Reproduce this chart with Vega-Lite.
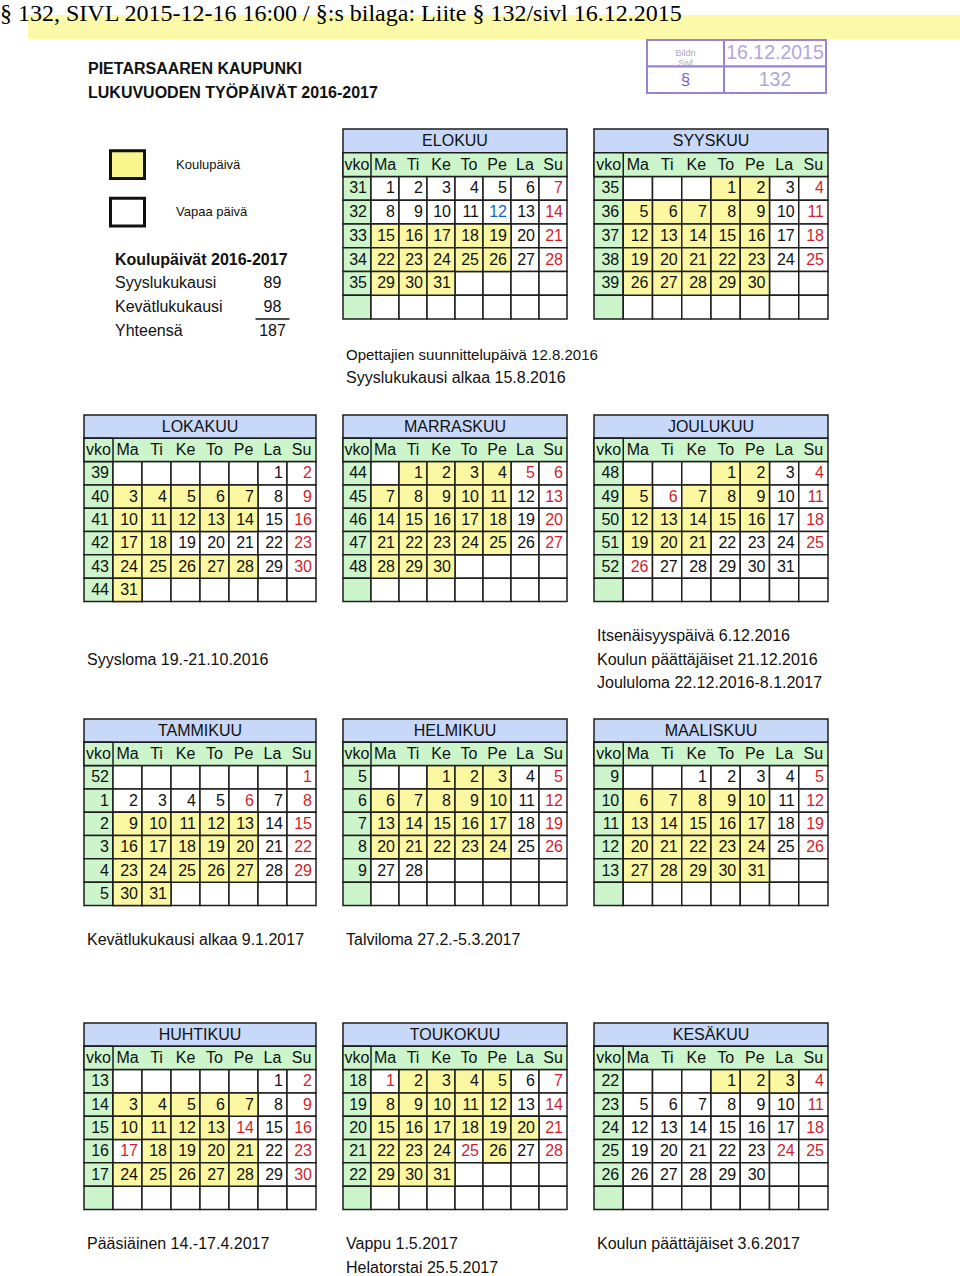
{
"$schema":"https://vega.github.io/schema/vega-lite/v6.json",
"background":"#ffffff",
"padding":{"top":2,"left":0,"right":0,"bottom":0},
"title":{"text":"§ 132, SIVL 2015-12-16 16:00 / §:s bilaga: Liite § 132/sivl 16.12.2015","anchor":"start","font":"Liberation Serif","fontSize":24,"fontWeight":"normal","color":"#000000","offset":-11},
"spacing":0,
"resolve":{"scale":{"color":"independent","fill":"independent"}},
"datasets":{
"months":[{"m":8,"name":"ELOKUU"},{"m":9,"name":"SYYSKUU"},{"m":10,"name":"LOKAKUU"},{"m":11,"name":"MARRASKUU"},{"m":12,"name":"JOULUKUU"},{"m":1,"name":"TAMMIKUU"},{"m":2,"name":"HELMIKUU"},{"m":3,"name":"MAALISKUU"},{"m":4,"name":"HUHTIKUU"},{"m":5,"name":"TOUKOKUU"},{"m":6,"name":"KESÄKUU"}],
"wd":[{"c":"vko"},{"c":"Ma"},{"c":"Ti"},{"c":"Ke"},{"c":"To"},{"c":"Pe"},{"c":"La"},{"c":"Su"}],
"grid":[
{"r":"1","c":"vko"},{"r":"1","c":"Ma"},{"r":"1","c":"Ti"},{"r":"1","c":"Ke"},{"r":"1","c":"To"},{"r":"1","c":"Pe"},{"r":"1","c":"La"},{"r":"1","c":"Su"},
{"r":"2","c":"vko"},{"r":"2","c":"Ma"},{"r":"2","c":"Ti"},{"r":"2","c":"Ke"},{"r":"2","c":"To"},{"r":"2","c":"Pe"},{"r":"2","c":"La"},{"r":"2","c":"Su"},
{"r":"3","c":"vko"},{"r":"3","c":"Ma"},{"r":"3","c":"Ti"},{"r":"3","c":"Ke"},{"r":"3","c":"To"},{"r":"3","c":"Pe"},{"r":"3","c":"La"},{"r":"3","c":"Su"},
{"r":"4","c":"vko"},{"r":"4","c":"Ma"},{"r":"4","c":"Ti"},{"r":"4","c":"Ke"},{"r":"4","c":"To"},{"r":"4","c":"Pe"},{"r":"4","c":"La"},{"r":"4","c":"Su"},
{"r":"5","c":"vko"},{"r":"5","c":"Ma"},{"r":"5","c":"Ti"},{"r":"5","c":"Ke"},{"r":"5","c":"To"},{"r":"5","c":"Pe"},{"r":"5","c":"La"},{"r":"5","c":"Su"},
{"r":"6","c":"vko"},{"r":"6","c":"Ma"},{"r":"6","c":"Ti"},{"r":"6","c":"Ke"},{"r":"6","c":"To"},{"r":"6","c":"Pe"},{"r":"6","c":"La"},{"r":"6","c":"Su"}],
"notes":[
{"m":8,"l":"n1","t":"Opettajien suunnittelupäivä 12.8.2016"},
{"m":8,"l":"n2","t":"Syyslukukausi alkaa 15.8.2016"},
{"m":10,"l":"n2","t":"Syysloma 19.-21.10.2016"},
{"m":12,"l":"n1","t":"Itsenäisyyspäivä 6.12.2016"},
{"m":12,"l":"n2","t":"Koulun päättäjäiset 21.12.2016"},
{"m":12,"l":"n3","t":"Joululoma 22.12.2016-8.1.2017"},
{"m":1,"l":"n1","t":"Kevätlukukausi alkaa 9.1.2017"},
{"m":2,"l":"n1","t":"Talviloma 27.2.-5.3.2017"},
{"m":4,"l":"n1","t":"Pääsiäinen 14.-17.4.2017"},
{"m":5,"l":"n1","t":"Vappu 1.5.2017"},
{"m":5,"l":"n2","t":"Helatorstai 25.5.2017"},
{"m":6,"l":"n1","t":"Koulun päättäjäiset 3.6.2017"}],
"legend":[{"label":"Koulupäivä","k":"S"},{"label":"Vapaa päivä","k":"F"}],
"summary":[{"label":"Koulupäivät 2016-2017"},{"label":"Syyslukukausi","days":89},{"label":"Kevätlukukausi","days":98},{"label":"Yhteensä","days":187}],
"titles":[{"t":"PIETARSAAREN KAUPUNKI"},{"t":"LUKUVUODEN TYÖPÄIVÄT 2016-2017"}],
"cal":[
{"m":8,"r":"1","c":"vko","d":31,"k":"W"},{"m":8,"r":"1","c":"Ma","d":1,"k":"F"},{"m":8,"r":"1","c":"Ti","d":2,"k":"F"},{"m":8,"r":"1","c":"Ke","d":3,"k":"F"},{"m":8,"r":"1","c":"To","d":4,"k":"F"},{"m":8,"r":"1","c":"Pe","d":5,"k":"F"},{"m":8,"r":"1","c":"La","d":6,"k":"F"},{"m":8,"r":"1","c":"Su","d":7,"k":"H"},
{"m":8,"r":"2","c":"vko","d":32,"k":"W"},{"m":8,"r":"2","c":"Ma","d":8,"k":"F"},{"m":8,"r":"2","c":"Ti","d":9,"k":"F"},{"m":8,"r":"2","c":"Ke","d":10,"k":"F"},{"m":8,"r":"2","c":"To","d":11,"k":"F"},{"m":8,"r":"2","c":"Pe","d":12,"k":"P"},{"m":8,"r":"2","c":"La","d":13,"k":"F"},{"m":8,"r":"2","c":"Su","d":14,"k":"H"},
{"m":8,"r":"3","c":"vko","d":33,"k":"W"},{"m":8,"r":"3","c":"Ma","d":15,"k":"S"},{"m":8,"r":"3","c":"Ti","d":16,"k":"S"},{"m":8,"r":"3","c":"Ke","d":17,"k":"S"},{"m":8,"r":"3","c":"To","d":18,"k":"S"},{"m":8,"r":"3","c":"Pe","d":19,"k":"S"},{"m":8,"r":"3","c":"La","d":20,"k":"F"},{"m":8,"r":"3","c":"Su","d":21,"k":"H"},
{"m":8,"r":"4","c":"vko","d":34,"k":"W"},{"m":8,"r":"4","c":"Ma","d":22,"k":"S"},{"m":8,"r":"4","c":"Ti","d":23,"k":"S"},{"m":8,"r":"4","c":"Ke","d":24,"k":"S"},{"m":8,"r":"4","c":"To","d":25,"k":"S"},{"m":8,"r":"4","c":"Pe","d":26,"k":"S"},{"m":8,"r":"4","c":"La","d":27,"k":"F"},{"m":8,"r":"4","c":"Su","d":28,"k":"H"},
{"m":8,"r":"5","c":"vko","d":35,"k":"W"},{"m":8,"r":"5","c":"Ma","d":29,"k":"S"},{"m":8,"r":"5","c":"Ti","d":30,"k":"S"},{"m":8,"r":"5","c":"Ke","d":31,"k":"S"},
{"m":9,"r":"1","c":"vko","d":35,"k":"W"},{"m":9,"r":"1","c":"To","d":1,"k":"S"},{"m":9,"r":"1","c":"Pe","d":2,"k":"S"},{"m":9,"r":"1","c":"La","d":3,"k":"F"},{"m":9,"r":"1","c":"Su","d":4,"k":"H"},
{"m":9,"r":"2","c":"vko","d":36,"k":"W"},{"m":9,"r":"2","c":"Ma","d":5,"k":"S"},{"m":9,"r":"2","c":"Ti","d":6,"k":"S"},{"m":9,"r":"2","c":"Ke","d":7,"k":"S"},{"m":9,"r":"2","c":"To","d":8,"k":"S"},{"m":9,"r":"2","c":"Pe","d":9,"k":"S"},{"m":9,"r":"2","c":"La","d":10,"k":"F"},{"m":9,"r":"2","c":"Su","d":11,"k":"H"},
{"m":9,"r":"3","c":"vko","d":37,"k":"W"},{"m":9,"r":"3","c":"Ma","d":12,"k":"S"},{"m":9,"r":"3","c":"Ti","d":13,"k":"S"},{"m":9,"r":"3","c":"Ke","d":14,"k":"S"},{"m":9,"r":"3","c":"To","d":15,"k":"S"},{"m":9,"r":"3","c":"Pe","d":16,"k":"S"},{"m":9,"r":"3","c":"La","d":17,"k":"F"},{"m":9,"r":"3","c":"Su","d":18,"k":"H"},
{"m":9,"r":"4","c":"vko","d":38,"k":"W"},{"m":9,"r":"4","c":"Ma","d":19,"k":"S"},{"m":9,"r":"4","c":"Ti","d":20,"k":"S"},{"m":9,"r":"4","c":"Ke","d":21,"k":"S"},{"m":9,"r":"4","c":"To","d":22,"k":"S"},{"m":9,"r":"4","c":"Pe","d":23,"k":"S"},{"m":9,"r":"4","c":"La","d":24,"k":"F"},{"m":9,"r":"4","c":"Su","d":25,"k":"H"},
{"m":9,"r":"5","c":"vko","d":39,"k":"W"},{"m":9,"r":"5","c":"Ma","d":26,"k":"S"},{"m":9,"r":"5","c":"Ti","d":27,"k":"S"},{"m":9,"r":"5","c":"Ke","d":28,"k":"S"},{"m":9,"r":"5","c":"To","d":29,"k":"S"},{"m":9,"r":"5","c":"Pe","d":30,"k":"S"},
{"m":10,"r":"1","c":"vko","d":39,"k":"W"},{"m":10,"r":"1","c":"La","d":1,"k":"F"},{"m":10,"r":"1","c":"Su","d":2,"k":"H"},
{"m":10,"r":"2","c":"vko","d":40,"k":"W"},{"m":10,"r":"2","c":"Ma","d":3,"k":"S"},{"m":10,"r":"2","c":"Ti","d":4,"k":"S"},{"m":10,"r":"2","c":"Ke","d":5,"k":"S"},{"m":10,"r":"2","c":"To","d":6,"k":"S"},{"m":10,"r":"2","c":"Pe","d":7,"k":"S"},{"m":10,"r":"2","c":"La","d":8,"k":"F"},{"m":10,"r":"2","c":"Su","d":9,"k":"H"},
{"m":10,"r":"3","c":"vko","d":41,"k":"W"},{"m":10,"r":"3","c":"Ma","d":10,"k":"S"},{"m":10,"r":"3","c":"Ti","d":11,"k":"S"},{"m":10,"r":"3","c":"Ke","d":12,"k":"S"},{"m":10,"r":"3","c":"To","d":13,"k":"S"},{"m":10,"r":"3","c":"Pe","d":14,"k":"S"},{"m":10,"r":"3","c":"La","d":15,"k":"F"},{"m":10,"r":"3","c":"Su","d":16,"k":"H"},
{"m":10,"r":"4","c":"vko","d":42,"k":"W"},{"m":10,"r":"4","c":"Ma","d":17,"k":"S"},{"m":10,"r":"4","c":"Ti","d":18,"k":"S"},{"m":10,"r":"4","c":"Ke","d":19,"k":"F"},{"m":10,"r":"4","c":"To","d":20,"k":"F"},{"m":10,"r":"4","c":"Pe","d":21,"k":"F"},{"m":10,"r":"4","c":"La","d":22,"k":"F"},{"m":10,"r":"4","c":"Su","d":23,"k":"H"},
{"m":10,"r":"5","c":"vko","d":43,"k":"W"},{"m":10,"r":"5","c":"Ma","d":24,"k":"S"},{"m":10,"r":"5","c":"Ti","d":25,"k":"S"},{"m":10,"r":"5","c":"Ke","d":26,"k":"S"},{"m":10,"r":"5","c":"To","d":27,"k":"S"},{"m":10,"r":"5","c":"Pe","d":28,"k":"S"},{"m":10,"r":"5","c":"La","d":29,"k":"F"},{"m":10,"r":"5","c":"Su","d":30,"k":"H"},
{"m":10,"r":"6","c":"vko","d":44,"k":"W"},{"m":10,"r":"6","c":"Ma","d":31,"k":"S"},
{"m":11,"r":"1","c":"vko","d":44,"k":"W"},{"m":11,"r":"1","c":"Ti","d":1,"k":"S"},{"m":11,"r":"1","c":"Ke","d":2,"k":"S"},{"m":11,"r":"1","c":"To","d":3,"k":"S"},{"m":11,"r":"1","c":"Pe","d":4,"k":"S"},{"m":11,"r":"1","c":"La","d":5,"k":"H"},{"m":11,"r":"1","c":"Su","d":6,"k":"H"},
{"m":11,"r":"2","c":"vko","d":45,"k":"W"},{"m":11,"r":"2","c":"Ma","d":7,"k":"S"},{"m":11,"r":"2","c":"Ti","d":8,"k":"S"},{"m":11,"r":"2","c":"Ke","d":9,"k":"S"},{"m":11,"r":"2","c":"To","d":10,"k":"S"},{"m":11,"r":"2","c":"Pe","d":11,"k":"S"},{"m":11,"r":"2","c":"La","d":12,"k":"F"},{"m":11,"r":"2","c":"Su","d":13,"k":"H"},
{"m":11,"r":"3","c":"vko","d":46,"k":"W"},{"m":11,"r":"3","c":"Ma","d":14,"k":"S"},{"m":11,"r":"3","c":"Ti","d":15,"k":"S"},{"m":11,"r":"3","c":"Ke","d":16,"k":"S"},{"m":11,"r":"3","c":"To","d":17,"k":"S"},{"m":11,"r":"3","c":"Pe","d":18,"k":"S"},{"m":11,"r":"3","c":"La","d":19,"k":"F"},{"m":11,"r":"3","c":"Su","d":20,"k":"H"},
{"m":11,"r":"4","c":"vko","d":47,"k":"W"},{"m":11,"r":"4","c":"Ma","d":21,"k":"S"},{"m":11,"r":"4","c":"Ti","d":22,"k":"S"},{"m":11,"r":"4","c":"Ke","d":23,"k":"S"},{"m":11,"r":"4","c":"To","d":24,"k":"S"},{"m":11,"r":"4","c":"Pe","d":25,"k":"S"},{"m":11,"r":"4","c":"La","d":26,"k":"F"},{"m":11,"r":"4","c":"Su","d":27,"k":"H"},
{"m":11,"r":"5","c":"vko","d":48,"k":"W"},{"m":11,"r":"5","c":"Ma","d":28,"k":"S"},{"m":11,"r":"5","c":"Ti","d":29,"k":"S"},{"m":11,"r":"5","c":"Ke","d":30,"k":"S"},
{"m":12,"r":"1","c":"vko","d":48,"k":"W"},{"m":12,"r":"1","c":"To","d":1,"k":"S"},{"m":12,"r":"1","c":"Pe","d":2,"k":"S"},{"m":12,"r":"1","c":"La","d":3,"k":"F"},{"m":12,"r":"1","c":"Su","d":4,"k":"H"},
{"m":12,"r":"2","c":"vko","d":49,"k":"W"},{"m":12,"r":"2","c":"Ma","d":5,"k":"S"},{"m":12,"r":"2","c":"Ti","d":6,"k":"H"},{"m":12,"r":"2","c":"Ke","d":7,"k":"S"},{"m":12,"r":"2","c":"To","d":8,"k":"S"},{"m":12,"r":"2","c":"Pe","d":9,"k":"S"},{"m":12,"r":"2","c":"La","d":10,"k":"F"},{"m":12,"r":"2","c":"Su","d":11,"k":"H"},
{"m":12,"r":"3","c":"vko","d":50,"k":"W"},{"m":12,"r":"3","c":"Ma","d":12,"k":"S"},{"m":12,"r":"3","c":"Ti","d":13,"k":"S"},{"m":12,"r":"3","c":"Ke","d":14,"k":"S"},{"m":12,"r":"3","c":"To","d":15,"k":"S"},{"m":12,"r":"3","c":"Pe","d":16,"k":"S"},{"m":12,"r":"3","c":"La","d":17,"k":"F"},{"m":12,"r":"3","c":"Su","d":18,"k":"H"},
{"m":12,"r":"4","c":"vko","d":51,"k":"W"},{"m":12,"r":"4","c":"Ma","d":19,"k":"S"},{"m":12,"r":"4","c":"Ti","d":20,"k":"S"},{"m":12,"r":"4","c":"Ke","d":21,"k":"S"},{"m":12,"r":"4","c":"To","d":22,"k":"F"},{"m":12,"r":"4","c":"Pe","d":23,"k":"F"},{"m":12,"r":"4","c":"La","d":24,"k":"F"},{"m":12,"r":"4","c":"Su","d":25,"k":"H"},
{"m":12,"r":"5","c":"vko","d":52,"k":"W"},{"m":12,"r":"5","c":"Ma","d":26,"k":"H"},{"m":12,"r":"5","c":"Ti","d":27,"k":"F"},{"m":12,"r":"5","c":"Ke","d":28,"k":"F"},{"m":12,"r":"5","c":"To","d":29,"k":"F"},{"m":12,"r":"5","c":"Pe","d":30,"k":"F"},{"m":12,"r":"5","c":"La","d":31,"k":"F"},
{"m":1,"r":"1","c":"vko","d":52,"k":"W"},{"m":1,"r":"1","c":"Su","d":1,"k":"H"},
{"m":1,"r":"2","c":"vko","d":1,"k":"W"},{"m":1,"r":"2","c":"Ma","d":2,"k":"F"},{"m":1,"r":"2","c":"Ti","d":3,"k":"F"},{"m":1,"r":"2","c":"Ke","d":4,"k":"F"},{"m":1,"r":"2","c":"To","d":5,"k":"F"},{"m":1,"r":"2","c":"Pe","d":6,"k":"H"},{"m":1,"r":"2","c":"La","d":7,"k":"F"},{"m":1,"r":"2","c":"Su","d":8,"k":"H"},
{"m":1,"r":"3","c":"vko","d":2,"k":"W"},{"m":1,"r":"3","c":"Ma","d":9,"k":"S"},{"m":1,"r":"3","c":"Ti","d":10,"k":"S"},{"m":1,"r":"3","c":"Ke","d":11,"k":"S"},{"m":1,"r":"3","c":"To","d":12,"k":"S"},{"m":1,"r":"3","c":"Pe","d":13,"k":"S"},{"m":1,"r":"3","c":"La","d":14,"k":"F"},{"m":1,"r":"3","c":"Su","d":15,"k":"H"},
{"m":1,"r":"4","c":"vko","d":3,"k":"W"},{"m":1,"r":"4","c":"Ma","d":16,"k":"S"},{"m":1,"r":"4","c":"Ti","d":17,"k":"S"},{"m":1,"r":"4","c":"Ke","d":18,"k":"S"},{"m":1,"r":"4","c":"To","d":19,"k":"S"},{"m":1,"r":"4","c":"Pe","d":20,"k":"S"},{"m":1,"r":"4","c":"La","d":21,"k":"F"},{"m":1,"r":"4","c":"Su","d":22,"k":"H"},
{"m":1,"r":"5","c":"vko","d":4,"k":"W"},{"m":1,"r":"5","c":"Ma","d":23,"k":"S"},{"m":1,"r":"5","c":"Ti","d":24,"k":"S"},{"m":1,"r":"5","c":"Ke","d":25,"k":"S"},{"m":1,"r":"5","c":"To","d":26,"k":"S"},{"m":1,"r":"5","c":"Pe","d":27,"k":"S"},{"m":1,"r":"5","c":"La","d":28,"k":"F"},{"m":1,"r":"5","c":"Su","d":29,"k":"H"},
{"m":1,"r":"6","c":"vko","d":5,"k":"W"},{"m":1,"r":"6","c":"Ma","d":30,"k":"S"},{"m":1,"r":"6","c":"Ti","d":31,"k":"S"},
{"m":2,"r":"1","c":"vko","d":5,"k":"W"},{"m":2,"r":"1","c":"Ke","d":1,"k":"S"},{"m":2,"r":"1","c":"To","d":2,"k":"S"},{"m":2,"r":"1","c":"Pe","d":3,"k":"S"},{"m":2,"r":"1","c":"La","d":4,"k":"F"},{"m":2,"r":"1","c":"Su","d":5,"k":"H"},
{"m":2,"r":"2","c":"vko","d":6,"k":"W"},{"m":2,"r":"2","c":"Ma","d":6,"k":"S"},{"m":2,"r":"2","c":"Ti","d":7,"k":"S"},{"m":2,"r":"2","c":"Ke","d":8,"k":"S"},{"m":2,"r":"2","c":"To","d":9,"k":"S"},{"m":2,"r":"2","c":"Pe","d":10,"k":"S"},{"m":2,"r":"2","c":"La","d":11,"k":"F"},{"m":2,"r":"2","c":"Su","d":12,"k":"H"},
{"m":2,"r":"3","c":"vko","d":7,"k":"W"},{"m":2,"r":"3","c":"Ma","d":13,"k":"S"},{"m":2,"r":"3","c":"Ti","d":14,"k":"S"},{"m":2,"r":"3","c":"Ke","d":15,"k":"S"},{"m":2,"r":"3","c":"To","d":16,"k":"S"},{"m":2,"r":"3","c":"Pe","d":17,"k":"S"},{"m":2,"r":"3","c":"La","d":18,"k":"F"},{"m":2,"r":"3","c":"Su","d":19,"k":"H"},
{"m":2,"r":"4","c":"vko","d":8,"k":"W"},{"m":2,"r":"4","c":"Ma","d":20,"k":"S"},{"m":2,"r":"4","c":"Ti","d":21,"k":"S"},{"m":2,"r":"4","c":"Ke","d":22,"k":"S"},{"m":2,"r":"4","c":"To","d":23,"k":"S"},{"m":2,"r":"4","c":"Pe","d":24,"k":"S"},{"m":2,"r":"4","c":"La","d":25,"k":"F"},{"m":2,"r":"4","c":"Su","d":26,"k":"H"},
{"m":2,"r":"5","c":"vko","d":9,"k":"W"},{"m":2,"r":"5","c":"Ma","d":27,"k":"F"},{"m":2,"r":"5","c":"Ti","d":28,"k":"F"},
{"m":3,"r":"1","c":"vko","d":9,"k":"W"},{"m":3,"r":"1","c":"Ke","d":1,"k":"F"},{"m":3,"r":"1","c":"To","d":2,"k":"F"},{"m":3,"r":"1","c":"Pe","d":3,"k":"F"},{"m":3,"r":"1","c":"La","d":4,"k":"F"},{"m":3,"r":"1","c":"Su","d":5,"k":"H"},
{"m":3,"r":"2","c":"vko","d":10,"k":"W"},{"m":3,"r":"2","c":"Ma","d":6,"k":"S"},{"m":3,"r":"2","c":"Ti","d":7,"k":"S"},{"m":3,"r":"2","c":"Ke","d":8,"k":"S"},{"m":3,"r":"2","c":"To","d":9,"k":"S"},{"m":3,"r":"2","c":"Pe","d":10,"k":"S"},{"m":3,"r":"2","c":"La","d":11,"k":"F"},{"m":3,"r":"2","c":"Su","d":12,"k":"H"},
{"m":3,"r":"3","c":"vko","d":11,"k":"W"},{"m":3,"r":"3","c":"Ma","d":13,"k":"S"},{"m":3,"r":"3","c":"Ti","d":14,"k":"S"},{"m":3,"r":"3","c":"Ke","d":15,"k":"S"},{"m":3,"r":"3","c":"To","d":16,"k":"S"},{"m":3,"r":"3","c":"Pe","d":17,"k":"S"},{"m":3,"r":"3","c":"La","d":18,"k":"F"},{"m":3,"r":"3","c":"Su","d":19,"k":"H"},
{"m":3,"r":"4","c":"vko","d":12,"k":"W"},{"m":3,"r":"4","c":"Ma","d":20,"k":"S"},{"m":3,"r":"4","c":"Ti","d":21,"k":"S"},{"m":3,"r":"4","c":"Ke","d":22,"k":"S"},{"m":3,"r":"4","c":"To","d":23,"k":"S"},{"m":3,"r":"4","c":"Pe","d":24,"k":"S"},{"m":3,"r":"4","c":"La","d":25,"k":"F"},{"m":3,"r":"4","c":"Su","d":26,"k":"H"},
{"m":3,"r":"5","c":"vko","d":13,"k":"W"},{"m":3,"r":"5","c":"Ma","d":27,"k":"S"},{"m":3,"r":"5","c":"Ti","d":28,"k":"S"},{"m":3,"r":"5","c":"Ke","d":29,"k":"S"},{"m":3,"r":"5","c":"To","d":30,"k":"S"},{"m":3,"r":"5","c":"Pe","d":31,"k":"S"},
{"m":4,"r":"1","c":"vko","d":13,"k":"W"},{"m":4,"r":"1","c":"La","d":1,"k":"F"},{"m":4,"r":"1","c":"Su","d":2,"k":"H"},
{"m":4,"r":"2","c":"vko","d":14,"k":"W"},{"m":4,"r":"2","c":"Ma","d":3,"k":"S"},{"m":4,"r":"2","c":"Ti","d":4,"k":"S"},{"m":4,"r":"2","c":"Ke","d":5,"k":"S"},{"m":4,"r":"2","c":"To","d":6,"k":"S"},{"m":4,"r":"2","c":"Pe","d":7,"k":"S"},{"m":4,"r":"2","c":"La","d":8,"k":"F"},{"m":4,"r":"2","c":"Su","d":9,"k":"H"},
{"m":4,"r":"3","c":"vko","d":15,"k":"W"},{"m":4,"r":"3","c":"Ma","d":10,"k":"S"},{"m":4,"r":"3","c":"Ti","d":11,"k":"S"},{"m":4,"r":"3","c":"Ke","d":12,"k":"S"},{"m":4,"r":"3","c":"To","d":13,"k":"S"},{"m":4,"r":"3","c":"Pe","d":14,"k":"H"},{"m":4,"r":"3","c":"La","d":15,"k":"F"},{"m":4,"r":"3","c":"Su","d":16,"k":"H"},
{"m":4,"r":"4","c":"vko","d":16,"k":"W"},{"m":4,"r":"4","c":"Ma","d":17,"k":"H"},{"m":4,"r":"4","c":"Ti","d":18,"k":"S"},{"m":4,"r":"4","c":"Ke","d":19,"k":"S"},{"m":4,"r":"4","c":"To","d":20,"k":"S"},{"m":4,"r":"4","c":"Pe","d":21,"k":"S"},{"m":4,"r":"4","c":"La","d":22,"k":"F"},{"m":4,"r":"4","c":"Su","d":23,"k":"H"},
{"m":4,"r":"5","c":"vko","d":17,"k":"W"},{"m":4,"r":"5","c":"Ma","d":24,"k":"S"},{"m":4,"r":"5","c":"Ti","d":25,"k":"S"},{"m":4,"r":"5","c":"Ke","d":26,"k":"S"},{"m":4,"r":"5","c":"To","d":27,"k":"S"},{"m":4,"r":"5","c":"Pe","d":28,"k":"S"},{"m":4,"r":"5","c":"La","d":29,"k":"F"},{"m":4,"r":"5","c":"Su","d":30,"k":"H"},
{"m":5,"r":"1","c":"vko","d":18,"k":"W"},{"m":5,"r":"1","c":"Ma","d":1,"k":"H"},{"m":5,"r":"1","c":"Ti","d":2,"k":"S"},{"m":5,"r":"1","c":"Ke","d":3,"k":"S"},{"m":5,"r":"1","c":"To","d":4,"k":"S"},{"m":5,"r":"1","c":"Pe","d":5,"k":"S"},{"m":5,"r":"1","c":"La","d":6,"k":"F"},{"m":5,"r":"1","c":"Su","d":7,"k":"H"},
{"m":5,"r":"2","c":"vko","d":19,"k":"W"},{"m":5,"r":"2","c":"Ma","d":8,"k":"S"},{"m":5,"r":"2","c":"Ti","d":9,"k":"S"},{"m":5,"r":"2","c":"Ke","d":10,"k":"S"},{"m":5,"r":"2","c":"To","d":11,"k":"S"},{"m":5,"r":"2","c":"Pe","d":12,"k":"S"},{"m":5,"r":"2","c":"La","d":13,"k":"F"},{"m":5,"r":"2","c":"Su","d":14,"k":"H"},
{"m":5,"r":"3","c":"vko","d":20,"k":"W"},{"m":5,"r":"3","c":"Ma","d":15,"k":"S"},{"m":5,"r":"3","c":"Ti","d":16,"k":"S"},{"m":5,"r":"3","c":"Ke","d":17,"k":"S"},{"m":5,"r":"3","c":"To","d":18,"k":"S"},{"m":5,"r":"3","c":"Pe","d":19,"k":"S"},{"m":5,"r":"3","c":"La","d":20,"k":"S"},{"m":5,"r":"3","c":"Su","d":21,"k":"H"},
{"m":5,"r":"4","c":"vko","d":21,"k":"W"},{"m":5,"r":"4","c":"Ma","d":22,"k":"S"},{"m":5,"r":"4","c":"Ti","d":23,"k":"S"},{"m":5,"r":"4","c":"Ke","d":24,"k":"S"},{"m":5,"r":"4","c":"To","d":25,"k":"H"},{"m":5,"r":"4","c":"Pe","d":26,"k":"S"},{"m":5,"r":"4","c":"La","d":27,"k":"F"},{"m":5,"r":"4","c":"Su","d":28,"k":"H"},
{"m":5,"r":"5","c":"vko","d":22,"k":"W"},{"m":5,"r":"5","c":"Ma","d":29,"k":"S"},{"m":5,"r":"5","c":"Ti","d":30,"k":"S"},{"m":5,"r":"5","c":"Ke","d":31,"k":"S"},
{"m":6,"r":"1","c":"vko","d":22,"k":"W"},{"m":6,"r":"1","c":"To","d":1,"k":"S"},{"m":6,"r":"1","c":"Pe","d":2,"k":"S"},{"m":6,"r":"1","c":"La","d":3,"k":"S"},{"m":6,"r":"1","c":"Su","d":4,"k":"H"},
{"m":6,"r":"2","c":"vko","d":23,"k":"W"},{"m":6,"r":"2","c":"Ma","d":5,"k":"F"},{"m":6,"r":"2","c":"Ti","d":6,"k":"F"},{"m":6,"r":"2","c":"Ke","d":7,"k":"F"},{"m":6,"r":"2","c":"To","d":8,"k":"F"},{"m":6,"r":"2","c":"Pe","d":9,"k":"F"},{"m":6,"r":"2","c":"La","d":10,"k":"F"},{"m":6,"r":"2","c":"Su","d":11,"k":"H"},
{"m":6,"r":"3","c":"vko","d":24,"k":"W"},{"m":6,"r":"3","c":"Ma","d":12,"k":"F"},{"m":6,"r":"3","c":"Ti","d":13,"k":"F"},{"m":6,"r":"3","c":"Ke","d":14,"k":"F"},{"m":6,"r":"3","c":"To","d":15,"k":"F"},{"m":6,"r":"3","c":"Pe","d":16,"k":"F"},{"m":6,"r":"3","c":"La","d":17,"k":"F"},{"m":6,"r":"3","c":"Su","d":18,"k":"H"},
{"m":6,"r":"4","c":"vko","d":25,"k":"W"},{"m":6,"r":"4","c":"Ma","d":19,"k":"F"},{"m":6,"r":"4","c":"Ti","d":20,"k":"F"},{"m":6,"r":"4","c":"Ke","d":21,"k":"F"},{"m":6,"r":"4","c":"To","d":22,"k":"F"},{"m":6,"r":"4","c":"Pe","d":23,"k":"F"},{"m":6,"r":"4","c":"La","d":24,"k":"H"},{"m":6,"r":"4","c":"Su","d":25,"k":"H"},
{"m":6,"r":"5","c":"vko","d":26,"k":"W"},{"m":6,"r":"5","c":"Ma","d":26,"k":"F"},{"m":6,"r":"5","c":"Ti","d":27,"k":"F"},{"m":6,"r":"5","c":"Ke","d":28,"k":"F"},{"m":6,"r":"5","c":"To","d":29,"k":"F"},{"m":6,"r":"5","c":"Pe","d":30,"k":"F"}
]
},
"vconcat":[
{"hconcat":[
 {"width":28,"height":1,"data":{"values":[{}]},"mark":{"type":"rect","opacity":0},"encoding":{}},
 {"width":932,"height":24,"data":{"values":[{}]},"mark":{"type":"rect","fill":"#fcf9a8"},"encoding":{}}
],"spacing":0,"bounds":"flush"},
{"hconcat":[
 {"width":84,"height":1,"data":{"values":[{}]},"mark":{"type":"rect","opacity":0},"encoding":{}},
 {"width":8,"height":88,"data":{"name":"titles"},"mark":{"type":"text","fontSize":16,"fontWeight":"bold","align":"left","color":"#111111"},
  "encoding":{"y":{"field":"t","type":"nominal","scale":{"type":"band","domain":["PIETARSAAREN KAUPUNKI","LUKUVUODEN TYÖPÄIVÄT 2016-2017"],"paddingInner":0,"paddingOuter":0.8333,"align":0.425}},"text":{"field":"t"}}},
 {"width":555,"height":1,"data":{"values":[{}]},"mark":{"type":"rect","opacity":0},"encoding":{}},
 {"width":77,"height":53,"data":{"values":[{"f":"date","txt":"Bildn\nSivl"},{"f":"para","txt":"§"}]},"layer":[
   {"mark":{"type":"rect","fill":"#ffffff","stroke":"#9a82d6","strokeWidth":2},"encoding":{"y":{"field":"f","type":"nominal","scale":{"type":"band","domain":["date","para"],"paddingInner":0,"paddingOuter":0}}}},
   {"transform":[{"filter":"datum.f==='date'"}],"mark":{"type":"text","fontSize":9,"lineBreak":"\n","lineHeight":10,"color":"#aaa6c8"},"encoding":{"y":{"field":"f","type":"nominal"},"text":{"field":"txt"}}},
   {"transform":[{"filter":"datum.f==='para'"}],"mark":{"type":"text","fontSize":17,"color":"#7d5fc8"},"encoding":{"y":{"field":"f","type":"nominal"},"text":{"field":"txt"}}}
 ]},
 {"width":102,"height":53,"data":{"values":[{"f":"date","txt":"16.12.2015"},{"f":"para","txt":"132"}]},"layer":[
   {"mark":{"type":"rect","fill":"#ffffff","stroke":"#9a82d6","strokeWidth":2},"encoding":{"y":{"field":"f","type":"nominal","scale":{"type":"band","domain":["date","para"],"paddingInner":0,"paddingOuter":0}}}},
   {"mark":{"type":"text","fontSize":19.5,"color":"#b3a5de"},"encoding":{"y":{"field":"f","type":"nominal"},"text":{"field":"txt"}}}
 ]}
],"spacing":0,"bounds":"flush"},
{"hconcat":[
 {"width":57,"height":1,"data":{"values":[{}]},"mark":{"type":"rect","opacity":0},"encoding":{}},
 {"width":232,"height":285,"layer":[
  {"data":{"name":"legend"},"mark":{"type":"point","shape":"M-1,-0.82H1V0.82H-1Z","size":1156,"filled":true,"stroke":"#111111","strokeWidth":3,"opacity":1},
   "encoding":{"x":{"datum":"Ma","type":"nominal","scale":{"type":"band","domain":["vko","Ma","Ti","Ke","To","Pe","La","Su"],"paddingInner":0,"paddingOuter":0}},
    "y":{"field":"label","type":"nominal","scale":{"type":"band","domain":["h","Koulupäivä","w1","Vapaa päivä","w3","Koulupäivät 2016-2017","Syyslukukausi","Kevätlukukausi","Yhteensä","n1","n2","n3"],"paddingInner":0,"paddingOuter":0}},
    "fill":{"field":"k","type":"nominal","scale":{"domain":["S","F"],"range":["#f9f68e","#ffffff"]},"legend":null}}},
  {"data":{"name":"legend"},"mark":{"type":"text","fontSize":13,"align":"left","dx":5,"color":"#111111"},
   "encoding":{"x":{"datum":"Ke","type":"nominal","bandPosition":0},"y":{"field":"label","type":"nominal"},"text":{"field":"label"}}},
  {"data":{"name":"summary"},"transform":[{"filter":"datum.days==null"}],"mark":{"type":"text","fontSize":16,"fontWeight":"bold","align":"left","dx":2,"color":"#111111"},
   "encoding":{"x":{"datum":"Ma","type":"nominal","bandPosition":0},"y":{"field":"label","type":"nominal"},"text":{"field":"label"}}},
  {"data":{"name":"summary"},"transform":[{"filter":"datum.days!=null"}],"mark":{"type":"text","fontSize":16,"align":"left","dx":2,"color":"#111111"},
   "encoding":{"x":{"datum":"Ma","type":"nominal","bandPosition":0},"y":{"field":"label","type":"nominal"},"text":{"field":"label"}}},
  {"data":{"name":"summary"},"transform":[{"filter":"datum.days!=null"}],"mark":{"type":"text","fontSize":16,"align":"center","color":"#111111"},
   "encoding":{"x":{"datum":"La","type":"nominal"},"y":{"field":"label","type":"nominal"},"text":{"field":"days"}}},
  {"data":{"name":"summary"},"transform":[{"filter":"datum.label==='Kevätlukukausi'"}],"mark":{"type":"tick","orient":"horizontal","size":34,"thickness":1.5,"color":"#111111","opacity":1},
   "encoding":{"x":{"datum":"La","type":"nominal"},"y":{"field":"label","type":"nominal","bandPosition":1}}}
 ]},
 {"width":224,"height":285,"layer":[
{"data":{"name":"grid"},"mark":{"type":"rect","stroke":"#1e1e1e","strokeWidth":1.5},"encoding":{"x":{"field":"c","type":"nominal","scale":{"type":"band","domain":["vko","Ma","Ti","Ke","To","Pe","La","Su"],"paddingInner":0,"paddingOuter":0}},"y":{"field":"r","type":"nominal","scale":{"type":"band","domain":["h","d","1","2","3","4","5","6","g","n1","n2","n3"],"paddingInner":0,"paddingOuter":0}},"fill":{"condition":{"test":"datum.c==='vko'","value":"#ccf5cc"},"value":"#ffffff"}}},
{"data":{"name":"cal"},"transform":[{"filter":"datum.m==8&&datum.k==='S'"}],"mark":{"type":"rect","fill":"#fcf8a2","stroke":"#1e1e1e","strokeWidth":1.5},"encoding":{"x":{"field":"c","type":"nominal"},"y":{"field":"r","type":"nominal"}}},
{"data":{"name":"months"},"transform":[{"filter":"datum.m==8"}],"mark":{"type":"rect","fill":"#c8d8f8","stroke":"#1e1e1e","strokeWidth":1.5},"encoding":{"y":{"datum":"h","type":"nominal"}}},
{"data":{"name":"months"},"transform":[{"filter":"datum.m==8"}],"mark":{"type":"rect","fill":"#ccf5cc","stroke":"#1e1e1e","strokeWidth":1.5},"encoding":{"y":{"datum":"d","type":"nominal"}}},
{"data":{"name":"months"},"transform":[{"filter":"datum.m==8"}],"mark":{"type":"rect","fill":"#ccf5cc","stroke":"#1e1e1e","strokeWidth":1.5},"encoding":{"x":{"datum":"vko","type":"nominal"},"y":{"datum":"d","type":"nominal"}}},
{"data":{"name":"months"},"transform":[{"filter":"datum.m==8"}],"mark":{"type":"text","fontSize":16,"color":"#111111"},"encoding":{"y":{"datum":"h","type":"nominal"},"text":{"field":"name"}}},
{"data":{"name":"wd"},"mark":{"type":"text","fontSize":16,"color":"#111111"},"encoding":{"x":{"field":"c","type":"nominal"},"y":{"datum":"d","type":"nominal"},"text":{"field":"c"}}},
{"data":{"name":"cal"},"transform":[{"filter":"datum.m==8"}],"mark":{"type":"text","fontSize":16,"align":"right","dx":-4},"encoding":{"x":{"field":"c","type":"nominal","bandPosition":1},"y":{"field":"r","type":"nominal"},"text":{"field":"d"},"color":{"field":"k","type":"nominal","scale":{"domain":["S","F","W","H","P"],"range":["#111111","#111111","#111111","#d01f2e","#1565c8"]},"legend":null}}},
{"data":{"name":"notes"},"transform":[{"filter":"datum.m==8&&datum.l==='n1'"}],"mark":{"type":"text","fontSize":15,"align":"left","dx":3,"color":"#111111"},"encoding":{"x":{"datum":"vko","type":"nominal","bandPosition":0},"y":{"field":"l","type":"nominal"},"text":{"field":"t"}}},
{"data":{"name":"notes"},"transform":[{"filter":"datum.m==8&&datum.l!=='n1'"}],"mark":{"type":"text","fontSize":16,"align":"left","dx":3,"color":"#111111"},"encoding":{"x":{"datum":"vko","type":"nominal","bandPosition":0},"y":{"field":"l","type":"nominal"},"text":{"field":"t"}}}
 ]},
 {"width":234,"height":285,"layer":[
{"data":{"name":"grid"},"mark":{"type":"rect","stroke":"#1e1e1e","strokeWidth":1.5},"encoding":{"x":{"field":"c","type":"nominal","scale":{"type":"band","domain":["vko","Ma","Ti","Ke","To","Pe","La","Su"],"paddingInner":0,"paddingOuter":0}},"y":{"field":"r","type":"nominal","scale":{"type":"band","domain":["h","d","1","2","3","4","5","6","g","n1","n2","n3"],"paddingInner":0,"paddingOuter":0}},"fill":{"condition":{"test":"datum.c==='vko'","value":"#ccf5cc"},"value":"#ffffff"}}},
{"data":{"name":"cal"},"transform":[{"filter":"datum.m==9&&datum.k==='S'"}],"mark":{"type":"rect","fill":"#fcf8a2","stroke":"#1e1e1e","strokeWidth":1.5},"encoding":{"x":{"field":"c","type":"nominal"},"y":{"field":"r","type":"nominal"}}},
{"data":{"name":"months"},"transform":[{"filter":"datum.m==9"}],"mark":{"type":"rect","fill":"#c8d8f8","stroke":"#1e1e1e","strokeWidth":1.5},"encoding":{"y":{"datum":"h","type":"nominal"}}},
{"data":{"name":"months"},"transform":[{"filter":"datum.m==9"}],"mark":{"type":"rect","fill":"#ccf5cc","stroke":"#1e1e1e","strokeWidth":1.5},"encoding":{"y":{"datum":"d","type":"nominal"}}},
{"data":{"name":"months"},"transform":[{"filter":"datum.m==9"}],"mark":{"type":"rect","fill":"#ccf5cc","stroke":"#1e1e1e","strokeWidth":1.5},"encoding":{"x":{"datum":"vko","type":"nominal"},"y":{"datum":"d","type":"nominal"}}},
{"data":{"name":"months"},"transform":[{"filter":"datum.m==9"}],"mark":{"type":"text","fontSize":16,"color":"#111111"},"encoding":{"y":{"datum":"h","type":"nominal"},"text":{"field":"name"}}},
{"data":{"name":"wd"},"mark":{"type":"text","fontSize":16,"color":"#111111"},"encoding":{"x":{"field":"c","type":"nominal"},"y":{"datum":"d","type":"nominal"},"text":{"field":"c"}}},
{"data":{"name":"cal"},"transform":[{"filter":"datum.m==9"}],"mark":{"type":"text","fontSize":16,"align":"right","dx":-4},"encoding":{"x":{"field":"c","type":"nominal","bandPosition":1},"y":{"field":"r","type":"nominal"},"text":{"field":"d"},"color":{"field":"k","type":"nominal","scale":{"domain":["S","F","W","H","P"],"range":["#111111","#111111","#111111","#d01f2e","#1565c8"]},"legend":null}}},
{"data":{"name":"notes"},"transform":[{"filter":"datum.m==9"}],"mark":{"type":"text","fontSize":16,"align":"left","dx":3,"color":"#111111"},"encoding":{"x":{"datum":"vko","type":"nominal","bandPosition":0},"y":{"field":"l","type":"nominal"},"text":{"field":"t"}}}
 ]}
],"spacing":27,"bounds":"flush","resolve":{"scale":{"color":"independent","fill":"independent"}}},
{"hconcat":[
 {"width":57,"height":1,"data":{"values":[{}]},"mark":{"type":"rect","opacity":0},"encoding":{}},
 {"width":232,"height":303,"layer":[
{"data":{"name":"grid"},"mark":{"type":"rect","stroke":"#1e1e1e","strokeWidth":1.5},"encoding":{"x":{"field":"c","type":"nominal","scale":{"type":"band","domain":["vko","Ma","Ti","Ke","To","Pe","La","Su"],"paddingInner":0,"paddingOuter":0}},"y":{"field":"r","type":"nominal","scale":{"type":"band","domain":["h","d","1","2","3","4","5","6","g","n1","n2","n3","n4"],"paddingInner":0,"paddingOuter":0}},"fill":{"condition":{"test":"datum.c==='vko'","value":"#ccf5cc"},"value":"#ffffff"}}},
{"data":{"name":"cal"},"transform":[{"filter":"datum.m==10&&datum.k==='S'"}],"mark":{"type":"rect","fill":"#fcf8a2","stroke":"#1e1e1e","strokeWidth":1.5},"encoding":{"x":{"field":"c","type":"nominal"},"y":{"field":"r","type":"nominal"}}},
{"data":{"name":"months"},"transform":[{"filter":"datum.m==10"}],"mark":{"type":"rect","fill":"#c8d8f8","stroke":"#1e1e1e","strokeWidth":1.5},"encoding":{"y":{"datum":"h","type":"nominal"}}},
{"data":{"name":"months"},"transform":[{"filter":"datum.m==10"}],"mark":{"type":"rect","fill":"#ccf5cc","stroke":"#1e1e1e","strokeWidth":1.5},"encoding":{"y":{"datum":"d","type":"nominal"}}},
{"data":{"name":"months"},"transform":[{"filter":"datum.m==10"}],"mark":{"type":"rect","fill":"#ccf5cc","stroke":"#1e1e1e","strokeWidth":1.5},"encoding":{"x":{"datum":"vko","type":"nominal"},"y":{"datum":"d","type":"nominal"}}},
{"data":{"name":"months"},"transform":[{"filter":"datum.m==10"}],"mark":{"type":"text","fontSize":16,"color":"#111111"},"encoding":{"y":{"datum":"h","type":"nominal"},"text":{"field":"name"}}},
{"data":{"name":"wd"},"mark":{"type":"text","fontSize":16,"color":"#111111"},"encoding":{"x":{"field":"c","type":"nominal"},"y":{"datum":"d","type":"nominal"},"text":{"field":"c"}}},
{"data":{"name":"cal"},"transform":[{"filter":"datum.m==10"}],"mark":{"type":"text","fontSize":16,"align":"right","dx":-4},"encoding":{"x":{"field":"c","type":"nominal","bandPosition":1},"y":{"field":"r","type":"nominal"},"text":{"field":"d"},"color":{"field":"k","type":"nominal","scale":{"domain":["S","F","W","H","P"],"range":["#111111","#111111","#111111","#d01f2e","#1565c8"]},"legend":null}}},
{"data":{"name":"notes"},"transform":[{"filter":"datum.m==10"}],"mark":{"type":"text","fontSize":16,"align":"left","dx":3,"color":"#111111"},"encoding":{"x":{"datum":"vko","type":"nominal","bandPosition":0},"y":{"field":"l","type":"nominal"},"text":{"field":"t"}}}
 ]},
 {"width":224,"height":303,"layer":[
{"data":{"name":"grid"},"mark":{"type":"rect","stroke":"#1e1e1e","strokeWidth":1.5},"encoding":{"x":{"field":"c","type":"nominal","scale":{"type":"band","domain":["vko","Ma","Ti","Ke","To","Pe","La","Su"],"paddingInner":0,"paddingOuter":0}},"y":{"field":"r","type":"nominal","scale":{"type":"band","domain":["h","d","1","2","3","4","5","6","g","n1","n2","n3","n4"],"paddingInner":0,"paddingOuter":0}},"fill":{"condition":{"test":"datum.c==='vko'","value":"#ccf5cc"},"value":"#ffffff"}}},
{"data":{"name":"cal"},"transform":[{"filter":"datum.m==11&&datum.k==='S'"}],"mark":{"type":"rect","fill":"#fcf8a2","stroke":"#1e1e1e","strokeWidth":1.5},"encoding":{"x":{"field":"c","type":"nominal"},"y":{"field":"r","type":"nominal"}}},
{"data":{"name":"months"},"transform":[{"filter":"datum.m==11"}],"mark":{"type":"rect","fill":"#c8d8f8","stroke":"#1e1e1e","strokeWidth":1.5},"encoding":{"y":{"datum":"h","type":"nominal"}}},
{"data":{"name":"months"},"transform":[{"filter":"datum.m==11"}],"mark":{"type":"rect","fill":"#ccf5cc","stroke":"#1e1e1e","strokeWidth":1.5},"encoding":{"y":{"datum":"d","type":"nominal"}}},
{"data":{"name":"months"},"transform":[{"filter":"datum.m==11"}],"mark":{"type":"rect","fill":"#ccf5cc","stroke":"#1e1e1e","strokeWidth":1.5},"encoding":{"x":{"datum":"vko","type":"nominal"},"y":{"datum":"d","type":"nominal"}}},
{"data":{"name":"months"},"transform":[{"filter":"datum.m==11"}],"mark":{"type":"text","fontSize":16,"color":"#111111"},"encoding":{"y":{"datum":"h","type":"nominal"},"text":{"field":"name"}}},
{"data":{"name":"wd"},"mark":{"type":"text","fontSize":16,"color":"#111111"},"encoding":{"x":{"field":"c","type":"nominal"},"y":{"datum":"d","type":"nominal"},"text":{"field":"c"}}},
{"data":{"name":"cal"},"transform":[{"filter":"datum.m==11"}],"mark":{"type":"text","fontSize":16,"align":"right","dx":-4},"encoding":{"x":{"field":"c","type":"nominal","bandPosition":1},"y":{"field":"r","type":"nominal"},"text":{"field":"d"},"color":{"field":"k","type":"nominal","scale":{"domain":["S","F","W","H","P"],"range":["#111111","#111111","#111111","#d01f2e","#1565c8"]},"legend":null}}},
{"data":{"name":"notes"},"transform":[{"filter":"datum.m==11"}],"mark":{"type":"text","fontSize":16,"align":"left","dx":3,"color":"#111111"},"encoding":{"x":{"datum":"vko","type":"nominal","bandPosition":0},"y":{"field":"l","type":"nominal"},"text":{"field":"t"}}}
 ]},
 {"width":234,"height":303,"layer":[
{"data":{"name":"grid"},"mark":{"type":"rect","stroke":"#1e1e1e","strokeWidth":1.5},"encoding":{"x":{"field":"c","type":"nominal","scale":{"type":"band","domain":["vko","Ma","Ti","Ke","To","Pe","La","Su"],"paddingInner":0,"paddingOuter":0}},"y":{"field":"r","type":"nominal","scale":{"type":"band","domain":["h","d","1","2","3","4","5","6","g","n1","n2","n3","n4"],"paddingInner":0,"paddingOuter":0}},"fill":{"condition":{"test":"datum.c==='vko'","value":"#ccf5cc"},"value":"#ffffff"}}},
{"data":{"name":"cal"},"transform":[{"filter":"datum.m==12&&datum.k==='S'"}],"mark":{"type":"rect","fill":"#fcf8a2","stroke":"#1e1e1e","strokeWidth":1.5},"encoding":{"x":{"field":"c","type":"nominal"},"y":{"field":"r","type":"nominal"}}},
{"data":{"name":"months"},"transform":[{"filter":"datum.m==12"}],"mark":{"type":"rect","fill":"#c8d8f8","stroke":"#1e1e1e","strokeWidth":1.5},"encoding":{"y":{"datum":"h","type":"nominal"}}},
{"data":{"name":"months"},"transform":[{"filter":"datum.m==12"}],"mark":{"type":"rect","fill":"#ccf5cc","stroke":"#1e1e1e","strokeWidth":1.5},"encoding":{"y":{"datum":"d","type":"nominal"}}},
{"data":{"name":"months"},"transform":[{"filter":"datum.m==12"}],"mark":{"type":"rect","fill":"#ccf5cc","stroke":"#1e1e1e","strokeWidth":1.5},"encoding":{"x":{"datum":"vko","type":"nominal"},"y":{"datum":"d","type":"nominal"}}},
{"data":{"name":"months"},"transform":[{"filter":"datum.m==12"}],"mark":{"type":"text","fontSize":16,"color":"#111111"},"encoding":{"y":{"datum":"h","type":"nominal"},"text":{"field":"name"}}},
{"data":{"name":"wd"},"mark":{"type":"text","fontSize":16,"color":"#111111"},"encoding":{"x":{"field":"c","type":"nominal"},"y":{"datum":"d","type":"nominal"},"text":{"field":"c"}}},
{"data":{"name":"cal"},"transform":[{"filter":"datum.m==12"}],"mark":{"type":"text","fontSize":16,"align":"right","dx":-4},"encoding":{"x":{"field":"c","type":"nominal","bandPosition":1},"y":{"field":"r","type":"nominal"},"text":{"field":"d"},"color":{"field":"k","type":"nominal","scale":{"domain":["S","F","W","H","P"],"range":["#111111","#111111","#111111","#d01f2e","#1565c8"]},"legend":null}}},
{"data":{"name":"notes"},"transform":[{"filter":"datum.m==12"}],"mark":{"type":"text","fontSize":16,"align":"left","dx":3,"color":"#111111"},"encoding":{"x":{"datum":"vko","type":"nominal","bandPosition":0},"y":{"field":"l","type":"nominal"},"text":{"field":"t"}}}
 ]}
],"spacing":27,"bounds":"flush","resolve":{"scale":{"color":"independent","fill":"independent"}}},
{"hconcat":[
 {"width":57,"height":1,"data":{"values":[{}]},"mark":{"type":"rect","opacity":0},"encoding":{}},
 {"width":232,"height":303,"layer":[
{"data":{"name":"grid"},"mark":{"type":"rect","stroke":"#1e1e1e","strokeWidth":1.5},"encoding":{"x":{"field":"c","type":"nominal","scale":{"type":"band","domain":["vko","Ma","Ti","Ke","To","Pe","La","Su"],"paddingInner":0,"paddingOuter":0}},"y":{"field":"r","type":"nominal","scale":{"type":"band","domain":["h","d","1","2","3","4","5","6","g","n1","n2","n3","n4"],"paddingInner":0,"paddingOuter":0}},"fill":{"condition":{"test":"datum.c==='vko'","value":"#ccf5cc"},"value":"#ffffff"}}},
{"data":{"name":"cal"},"transform":[{"filter":"datum.m==1&&datum.k==='S'"}],"mark":{"type":"rect","fill":"#fcf8a2","stroke":"#1e1e1e","strokeWidth":1.5},"encoding":{"x":{"field":"c","type":"nominal"},"y":{"field":"r","type":"nominal"}}},
{"data":{"name":"months"},"transform":[{"filter":"datum.m==1"}],"mark":{"type":"rect","fill":"#c8d8f8","stroke":"#1e1e1e","strokeWidth":1.5},"encoding":{"y":{"datum":"h","type":"nominal"}}},
{"data":{"name":"months"},"transform":[{"filter":"datum.m==1"}],"mark":{"type":"rect","fill":"#ccf5cc","stroke":"#1e1e1e","strokeWidth":1.5},"encoding":{"y":{"datum":"d","type":"nominal"}}},
{"data":{"name":"months"},"transform":[{"filter":"datum.m==1"}],"mark":{"type":"rect","fill":"#ccf5cc","stroke":"#1e1e1e","strokeWidth":1.5},"encoding":{"x":{"datum":"vko","type":"nominal"},"y":{"datum":"d","type":"nominal"}}},
{"data":{"name":"months"},"transform":[{"filter":"datum.m==1"}],"mark":{"type":"text","fontSize":16,"color":"#111111"},"encoding":{"y":{"datum":"h","type":"nominal"},"text":{"field":"name"}}},
{"data":{"name":"wd"},"mark":{"type":"text","fontSize":16,"color":"#111111"},"encoding":{"x":{"field":"c","type":"nominal"},"y":{"datum":"d","type":"nominal"},"text":{"field":"c"}}},
{"data":{"name":"cal"},"transform":[{"filter":"datum.m==1"}],"mark":{"type":"text","fontSize":16,"align":"right","dx":-4},"encoding":{"x":{"field":"c","type":"nominal","bandPosition":1},"y":{"field":"r","type":"nominal"},"text":{"field":"d"},"color":{"field":"k","type":"nominal","scale":{"domain":["S","F","W","H","P"],"range":["#111111","#111111","#111111","#d01f2e","#1565c8"]},"legend":null}}},
{"data":{"name":"notes"},"transform":[{"filter":"datum.m==1"}],"mark":{"type":"text","fontSize":16,"align":"left","dx":3,"color":"#111111"},"encoding":{"x":{"datum":"vko","type":"nominal","bandPosition":0},"y":{"field":"l","type":"nominal"},"text":{"field":"t"}}}
 ]},
 {"width":224,"height":303,"layer":[
{"data":{"name":"grid"},"mark":{"type":"rect","stroke":"#1e1e1e","strokeWidth":1.5},"encoding":{"x":{"field":"c","type":"nominal","scale":{"type":"band","domain":["vko","Ma","Ti","Ke","To","Pe","La","Su"],"paddingInner":0,"paddingOuter":0}},"y":{"field":"r","type":"nominal","scale":{"type":"band","domain":["h","d","1","2","3","4","5","6","g","n1","n2","n3","n4"],"paddingInner":0,"paddingOuter":0}},"fill":{"condition":{"test":"datum.c==='vko'","value":"#ccf5cc"},"value":"#ffffff"}}},
{"data":{"name":"cal"},"transform":[{"filter":"datum.m==2&&datum.k==='S'"}],"mark":{"type":"rect","fill":"#fcf8a2","stroke":"#1e1e1e","strokeWidth":1.5},"encoding":{"x":{"field":"c","type":"nominal"},"y":{"field":"r","type":"nominal"}}},
{"data":{"name":"months"},"transform":[{"filter":"datum.m==2"}],"mark":{"type":"rect","fill":"#c8d8f8","stroke":"#1e1e1e","strokeWidth":1.5},"encoding":{"y":{"datum":"h","type":"nominal"}}},
{"data":{"name":"months"},"transform":[{"filter":"datum.m==2"}],"mark":{"type":"rect","fill":"#ccf5cc","stroke":"#1e1e1e","strokeWidth":1.5},"encoding":{"y":{"datum":"d","type":"nominal"}}},
{"data":{"name":"months"},"transform":[{"filter":"datum.m==2"}],"mark":{"type":"rect","fill":"#ccf5cc","stroke":"#1e1e1e","strokeWidth":1.5},"encoding":{"x":{"datum":"vko","type":"nominal"},"y":{"datum":"d","type":"nominal"}}},
{"data":{"name":"months"},"transform":[{"filter":"datum.m==2"}],"mark":{"type":"text","fontSize":16,"color":"#111111"},"encoding":{"y":{"datum":"h","type":"nominal"},"text":{"field":"name"}}},
{"data":{"name":"wd"},"mark":{"type":"text","fontSize":16,"color":"#111111"},"encoding":{"x":{"field":"c","type":"nominal"},"y":{"datum":"d","type":"nominal"},"text":{"field":"c"}}},
{"data":{"name":"cal"},"transform":[{"filter":"datum.m==2"}],"mark":{"type":"text","fontSize":16,"align":"right","dx":-4},"encoding":{"x":{"field":"c","type":"nominal","bandPosition":1},"y":{"field":"r","type":"nominal"},"text":{"field":"d"},"color":{"field":"k","type":"nominal","scale":{"domain":["S","F","W","H","P"],"range":["#111111","#111111","#111111","#d01f2e","#1565c8"]},"legend":null}}},
{"data":{"name":"notes"},"transform":[{"filter":"datum.m==2"}],"mark":{"type":"text","fontSize":16,"align":"left","dx":3,"color":"#111111"},"encoding":{"x":{"datum":"vko","type":"nominal","bandPosition":0},"y":{"field":"l","type":"nominal"},"text":{"field":"t"}}}
 ]},
 {"width":234,"height":303,"layer":[
{"data":{"name":"grid"},"mark":{"type":"rect","stroke":"#1e1e1e","strokeWidth":1.5},"encoding":{"x":{"field":"c","type":"nominal","scale":{"type":"band","domain":["vko","Ma","Ti","Ke","To","Pe","La","Su"],"paddingInner":0,"paddingOuter":0}},"y":{"field":"r","type":"nominal","scale":{"type":"band","domain":["h","d","1","2","3","4","5","6","g","n1","n2","n3","n4"],"paddingInner":0,"paddingOuter":0}},"fill":{"condition":{"test":"datum.c==='vko'","value":"#ccf5cc"},"value":"#ffffff"}}},
{"data":{"name":"cal"},"transform":[{"filter":"datum.m==3&&datum.k==='S'"}],"mark":{"type":"rect","fill":"#fcf8a2","stroke":"#1e1e1e","strokeWidth":1.5},"encoding":{"x":{"field":"c","type":"nominal"},"y":{"field":"r","type":"nominal"}}},
{"data":{"name":"months"},"transform":[{"filter":"datum.m==3"}],"mark":{"type":"rect","fill":"#c8d8f8","stroke":"#1e1e1e","strokeWidth":1.5},"encoding":{"y":{"datum":"h","type":"nominal"}}},
{"data":{"name":"months"},"transform":[{"filter":"datum.m==3"}],"mark":{"type":"rect","fill":"#ccf5cc","stroke":"#1e1e1e","strokeWidth":1.5},"encoding":{"y":{"datum":"d","type":"nominal"}}},
{"data":{"name":"months"},"transform":[{"filter":"datum.m==3"}],"mark":{"type":"rect","fill":"#ccf5cc","stroke":"#1e1e1e","strokeWidth":1.5},"encoding":{"x":{"datum":"vko","type":"nominal"},"y":{"datum":"d","type":"nominal"}}},
{"data":{"name":"months"},"transform":[{"filter":"datum.m==3"}],"mark":{"type":"text","fontSize":16,"color":"#111111"},"encoding":{"y":{"datum":"h","type":"nominal"},"text":{"field":"name"}}},
{"data":{"name":"wd"},"mark":{"type":"text","fontSize":16,"color":"#111111"},"encoding":{"x":{"field":"c","type":"nominal"},"y":{"datum":"d","type":"nominal"},"text":{"field":"c"}}},
{"data":{"name":"cal"},"transform":[{"filter":"datum.m==3"}],"mark":{"type":"text","fontSize":16,"align":"right","dx":-4},"encoding":{"x":{"field":"c","type":"nominal","bandPosition":1},"y":{"field":"r","type":"nominal"},"text":{"field":"d"},"color":{"field":"k","type":"nominal","scale":{"domain":["S","F","W","H","P"],"range":["#111111","#111111","#111111","#d01f2e","#1565c8"]},"legend":null}}},
{"data":{"name":"notes"},"transform":[{"filter":"datum.m==3"}],"mark":{"type":"text","fontSize":16,"align":"left","dx":3,"color":"#111111"},"encoding":{"x":{"datum":"vko","type":"nominal","bandPosition":0},"y":{"field":"l","type":"nominal"},"text":{"field":"t"}}}
 ]}
],"spacing":27,"bounds":"flush","resolve":{"scale":{"color":"independent","fill":"independent"}}},
{"hconcat":[
 {"width":57,"height":1,"data":{"values":[{}]},"mark":{"type":"rect","opacity":0},"encoding":{}},
 {"width":232,"height":303,"layer":[
{"data":{"name":"grid"},"mark":{"type":"rect","stroke":"#1e1e1e","strokeWidth":1.5},"encoding":{"x":{"field":"c","type":"nominal","scale":{"type":"band","domain":["vko","Ma","Ti","Ke","To","Pe","La","Su"],"paddingInner":0,"paddingOuter":0}},"y":{"field":"r","type":"nominal","scale":{"type":"band","domain":["h","d","1","2","3","4","5","6","g","n1","n2","n3","n4"],"paddingInner":0,"paddingOuter":0}},"fill":{"condition":{"test":"datum.c==='vko'","value":"#ccf5cc"},"value":"#ffffff"}}},
{"data":{"name":"cal"},"transform":[{"filter":"datum.m==4&&datum.k==='S'"}],"mark":{"type":"rect","fill":"#fcf8a2","stroke":"#1e1e1e","strokeWidth":1.5},"encoding":{"x":{"field":"c","type":"nominal"},"y":{"field":"r","type":"nominal"}}},
{"data":{"name":"months"},"transform":[{"filter":"datum.m==4"}],"mark":{"type":"rect","fill":"#c8d8f8","stroke":"#1e1e1e","strokeWidth":1.5},"encoding":{"y":{"datum":"h","type":"nominal"}}},
{"data":{"name":"months"},"transform":[{"filter":"datum.m==4"}],"mark":{"type":"rect","fill":"#ccf5cc","stroke":"#1e1e1e","strokeWidth":1.5},"encoding":{"y":{"datum":"d","type":"nominal"}}},
{"data":{"name":"months"},"transform":[{"filter":"datum.m==4"}],"mark":{"type":"rect","fill":"#ccf5cc","stroke":"#1e1e1e","strokeWidth":1.5},"encoding":{"x":{"datum":"vko","type":"nominal"},"y":{"datum":"d","type":"nominal"}}},
{"data":{"name":"months"},"transform":[{"filter":"datum.m==4"}],"mark":{"type":"text","fontSize":16,"color":"#111111"},"encoding":{"y":{"datum":"h","type":"nominal"},"text":{"field":"name"}}},
{"data":{"name":"wd"},"mark":{"type":"text","fontSize":16,"color":"#111111"},"encoding":{"x":{"field":"c","type":"nominal"},"y":{"datum":"d","type":"nominal"},"text":{"field":"c"}}},
{"data":{"name":"cal"},"transform":[{"filter":"datum.m==4"}],"mark":{"type":"text","fontSize":16,"align":"right","dx":-4},"encoding":{"x":{"field":"c","type":"nominal","bandPosition":1},"y":{"field":"r","type":"nominal"},"text":{"field":"d"},"color":{"field":"k","type":"nominal","scale":{"domain":["S","F","W","H","P"],"range":["#111111","#111111","#111111","#d01f2e","#1565c8"]},"legend":null}}},
{"data":{"name":"notes"},"transform":[{"filter":"datum.m==4"}],"mark":{"type":"text","fontSize":16,"align":"left","dx":3,"color":"#111111"},"encoding":{"x":{"datum":"vko","type":"nominal","bandPosition":0},"y":{"field":"l","type":"nominal"},"text":{"field":"t"}}}
 ]},
 {"width":224,"height":303,"layer":[
{"data":{"name":"grid"},"mark":{"type":"rect","stroke":"#1e1e1e","strokeWidth":1.5},"encoding":{"x":{"field":"c","type":"nominal","scale":{"type":"band","domain":["vko","Ma","Ti","Ke","To","Pe","La","Su"],"paddingInner":0,"paddingOuter":0}},"y":{"field":"r","type":"nominal","scale":{"type":"band","domain":["h","d","1","2","3","4","5","6","g","n1","n2","n3","n4"],"paddingInner":0,"paddingOuter":0}},"fill":{"condition":{"test":"datum.c==='vko'","value":"#ccf5cc"},"value":"#ffffff"}}},
{"data":{"name":"cal"},"transform":[{"filter":"datum.m==5&&datum.k==='S'"}],"mark":{"type":"rect","fill":"#fcf8a2","stroke":"#1e1e1e","strokeWidth":1.5},"encoding":{"x":{"field":"c","type":"nominal"},"y":{"field":"r","type":"nominal"}}},
{"data":{"name":"months"},"transform":[{"filter":"datum.m==5"}],"mark":{"type":"rect","fill":"#c8d8f8","stroke":"#1e1e1e","strokeWidth":1.5},"encoding":{"y":{"datum":"h","type":"nominal"}}},
{"data":{"name":"months"},"transform":[{"filter":"datum.m==5"}],"mark":{"type":"rect","fill":"#ccf5cc","stroke":"#1e1e1e","strokeWidth":1.5},"encoding":{"y":{"datum":"d","type":"nominal"}}},
{"data":{"name":"months"},"transform":[{"filter":"datum.m==5"}],"mark":{"type":"rect","fill":"#ccf5cc","stroke":"#1e1e1e","strokeWidth":1.5},"encoding":{"x":{"datum":"vko","type":"nominal"},"y":{"datum":"d","type":"nominal"}}},
{"data":{"name":"months"},"transform":[{"filter":"datum.m==5"}],"mark":{"type":"text","fontSize":16,"color":"#111111"},"encoding":{"y":{"datum":"h","type":"nominal"},"text":{"field":"name"}}},
{"data":{"name":"wd"},"mark":{"type":"text","fontSize":16,"color":"#111111"},"encoding":{"x":{"field":"c","type":"nominal"},"y":{"datum":"d","type":"nominal"},"text":{"field":"c"}}},
{"data":{"name":"cal"},"transform":[{"filter":"datum.m==5"}],"mark":{"type":"text","fontSize":16,"align":"right","dx":-4},"encoding":{"x":{"field":"c","type":"nominal","bandPosition":1},"y":{"field":"r","type":"nominal"},"text":{"field":"d"},"color":{"field":"k","type":"nominal","scale":{"domain":["S","F","W","H","P"],"range":["#111111","#111111","#111111","#d01f2e","#1565c8"]},"legend":null}}},
{"data":{"name":"notes"},"transform":[{"filter":"datum.m==5"}],"mark":{"type":"text","fontSize":16,"align":"left","dx":3,"color":"#111111"},"encoding":{"x":{"datum":"vko","type":"nominal","bandPosition":0},"y":{"field":"l","type":"nominal"},"text":{"field":"t"}}}
 ]},
 {"width":234,"height":303,"layer":[
{"data":{"name":"grid"},"mark":{"type":"rect","stroke":"#1e1e1e","strokeWidth":1.5},"encoding":{"x":{"field":"c","type":"nominal","scale":{"type":"band","domain":["vko","Ma","Ti","Ke","To","Pe","La","Su"],"paddingInner":0,"paddingOuter":0}},"y":{"field":"r","type":"nominal","scale":{"type":"band","domain":["h","d","1","2","3","4","5","6","g","n1","n2","n3","n4"],"paddingInner":0,"paddingOuter":0}},"fill":{"condition":{"test":"datum.c==='vko'","value":"#ccf5cc"},"value":"#ffffff"}}},
{"data":{"name":"cal"},"transform":[{"filter":"datum.m==6&&datum.k==='S'"}],"mark":{"type":"rect","fill":"#fcf8a2","stroke":"#1e1e1e","strokeWidth":1.5},"encoding":{"x":{"field":"c","type":"nominal"},"y":{"field":"r","type":"nominal"}}},
{"data":{"name":"months"},"transform":[{"filter":"datum.m==6"}],"mark":{"type":"rect","fill":"#c8d8f8","stroke":"#1e1e1e","strokeWidth":1.5},"encoding":{"y":{"datum":"h","type":"nominal"}}},
{"data":{"name":"months"},"transform":[{"filter":"datum.m==6"}],"mark":{"type":"rect","fill":"#ccf5cc","stroke":"#1e1e1e","strokeWidth":1.5},"encoding":{"y":{"datum":"d","type":"nominal"}}},
{"data":{"name":"months"},"transform":[{"filter":"datum.m==6"}],"mark":{"type":"rect","fill":"#ccf5cc","stroke":"#1e1e1e","strokeWidth":1.5},"encoding":{"x":{"datum":"vko","type":"nominal"},"y":{"datum":"d","type":"nominal"}}},
{"data":{"name":"months"},"transform":[{"filter":"datum.m==6"}],"mark":{"type":"text","fontSize":16,"color":"#111111"},"encoding":{"y":{"datum":"h","type":"nominal"},"text":{"field":"name"}}},
{"data":{"name":"wd"},"mark":{"type":"text","fontSize":16,"color":"#111111"},"encoding":{"x":{"field":"c","type":"nominal"},"y":{"datum":"d","type":"nominal"},"text":{"field":"c"}}},
{"data":{"name":"cal"},"transform":[{"filter":"datum.m==6"}],"mark":{"type":"text","fontSize":16,"align":"right","dx":-4},"encoding":{"x":{"field":"c","type":"nominal","bandPosition":1},"y":{"field":"r","type":"nominal"},"text":{"field":"d"},"color":{"field":"k","type":"nominal","scale":{"domain":["S","F","W","H","P"],"range":["#111111","#111111","#111111","#d01f2e","#1565c8"]},"legend":null}}},
{"data":{"name":"notes"},"transform":[{"filter":"datum.m==6"}],"mark":{"type":"text","fontSize":16,"align":"left","dx":3,"color":"#111111"},"encoding":{"x":{"datum":"vko","type":"nominal","bandPosition":0},"y":{"field":"l","type":"nominal"},"text":{"field":"t"}}}
 ]}
],"spacing":27,"bounds":"flush","resolve":{"scale":{"color":"independent","fill":"independent"}}}
],
"config":{
"view":{"stroke":null},
"axis":{"disable":true},
"legend":{"disable":true},
"scale":{"bandPaddingInner":0,"bandPaddingOuter":0},
"text":{"font":"Liberation Sans"},
"concat":{"spacing":0}
}
}
